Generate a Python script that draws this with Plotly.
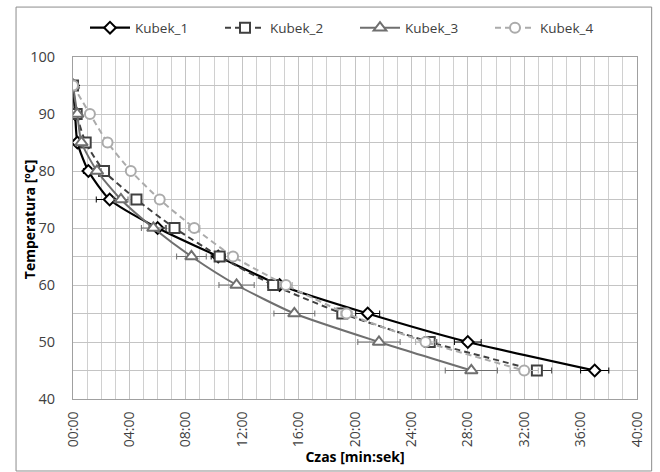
import plotly.graph_objects as go

temps = [95, 90, 85, 80, 75, 70, 65, 60, 55, 50, 45]

k1_time = [0, 0.15, 0.31, 1.09, 2.6, 6.0, 10.3, 14.65, 20.9, 28.0, 37.0]
k1_err = [0, 0.1, 0.2, 0.35, 0.95, 0.6, 0.5, 0.5, 0.85, 0.95, 1.0]

k2_time = [0, 0.26, 0.9, 2.2, 4.5, 7.2, 10.4, 14.2, 19.1, 25.3, 32.9]
k2_err = [0, 0.1, 0.15, 0.2, 0.3, 0.3, 0.3, 0.4, 0.35, 0.5, 1.05]

k3_time = [0, 0.3, 0.6, 1.7, 3.4, 5.7, 8.4, 11.6, 15.7, 21.7, 28.25]
k3_err = [0, 0.1, 0.15, 0.3, 0.5, 0.85, 1.05, 1.25, 1.45, 1.5, 1.85]

k4_time = [0, 1.2, 2.45, 4.1, 6.15, 8.6, 11.35, 15.1, 19.4, 25.0, 32.0]
k4_err = [0, 0.1, 0.2, 0.2, 0.3, 0.4, 0.3, 0.45, 0.4, 0.7, 1.0]

names = ["Kubek_1", "Kubek_2", "Kubek_3", "Kubek_4"]
x_tick_vals = [0, 4, 8, 12, 16, 20, 24, 28, 32, 36, 40]
x_tick_text = ["00:00", "04:00", "08:00", "12:00", "16:00", "20:00",
               "24:00", "28:00", "32:00", "36:00", "40:00"]

series = [
    (k1_time, k1_err, "#000000", "solid", "diamond", 9, 2.2),
    (k2_time, k2_err, "#404040", "6px,4px", "square", 10, 2.0),
    (k3_time, k3_err, "#6f6f6f", "solid", "triangle-up", 11, 2.0),
    (k4_time, k4_err, "#ababab", "6px,4px", "circle", 10, 2.0),
]

FONT = "Open Sans"
fig = go.Figure()
for name, (t, e, col, dash, sym, size, lw) in zip(names, series):
    fig.add_trace(go.Scatter(
        x=t, y=temps, name=name, mode="lines+markers",
        line=dict(color=col, width=lw, dash=dash, shape="spline", smoothing=0.6),
        marker=dict(symbol=sym, size=size, color="white",
                    line=dict(color=col, width=2)),
        error_x=dict(type="data", array=e, visible=True, color=col,
                     thickness=1, width=3),
    ))

fig.update_layout(
    width=660, height=472,
    margin=dict(l=73, r=23, t=57, b=73, autoexpand=False),
    paper_bgcolor="white", plot_bgcolor="white",
    font=dict(family=FONT, size=13, color="#404040"),
    showlegend=True,
    legend=dict(orientation="h", x=0.5, xanchor="center", y=1.085, yanchor="middle",
                font=dict(family=FONT, size=13.5, color="#404040"),
                itemwidth=40, entrywidth=80, entrywidthmode="pixels",
                tracegroupgap=0, bgcolor="rgba(0,0,0,0)"),
    shapes=[dict(type="rect", xref="paper", yref="paper",
                 x0=-0.101, x1=1.026, y0=-0.2105, y1=1.146,
                 line=dict(color="#8c8c8c", width=1), layer="below")],
    annotations=[dict(text="<b>Temperatura [ºC]</b>", xref="paper", yref="paper",
                      x=-0.078, y=0.523, textangle=-90, showarrow=False,
                      xanchor="center", yanchor="middle",
                      font=dict(family=FONT, size=14, color="#000000"))],
)

fig.update_xaxes(
    range=[0, 40], tickvals=x_tick_vals, ticktext=x_tick_text,
    tickangle=-90, tickfont=dict(family=FONT, size=14, color="#404040"),
    showgrid=True, gridcolor="#c4c4c4", gridwidth=1,
    minor=dict(dtick=1, showgrid=True, gridcolor="#d0d0d0", gridwidth=1),
    showline=True, linecolor="#a0a0a0", linewidth=1, mirror=True,
    zeroline=False, ticks="", ticklabelstandoff=6,
    title=dict(text="<b>Czas [min:sek]</b>",
               font=dict(family=FONT, size=14, color="#000000"), standoff=2),
)
fig.update_yaxes(
    range=[40, 100], dtick=10, tickfont=dict(family=FONT, size=14.5, color="#404040"),
    showgrid=True, gridcolor="#c4c4c4", gridwidth=1,
    minor=dict(dtick=5, showgrid=True, gridcolor="#c4c4c4", gridwidth=1),
    showline=True, linecolor="#a0a0a0", linewidth=1, mirror=True,
    zeroline=False, ticks="", ticklabelstandoff=14,
)

fig.write_html("out.html")
